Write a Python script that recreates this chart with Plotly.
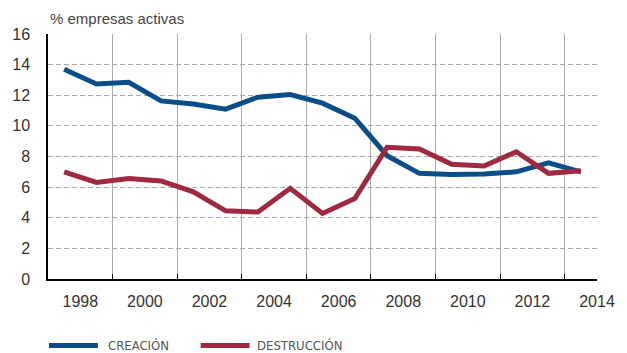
import plotly.graph_objects as go

years = [1997.5 + i for i in range(17)]
creacion = [13.70, 12.74, 12.85, 11.63, 11.43, 11.09, 11.87, 12.05, 11.48, 10.50,
            8.05, 6.90, 6.83, 6.85, 7.00, 7.59, 7.00]
destruccion = [7.00, 6.31, 6.57, 6.40, 5.69, 4.45, 4.37, 5.92, 4.28, 5.26,
               8.60, 8.49, 7.49, 7.38, 8.31, 6.90, 7.07]
tick_years = [1998, 2000, 2002, 2004, 2006, 2008, 2010, 2012, 2014]
grid_years = [1999, 2001, 2003, 2005, 2007, 2009, 2011, 2013]
y_ticks = [0, 2, 4, 6, 8, 10, 12, 14, 16]

BLUE = "#0b4d86"
RED = "#9f2941"

fig = go.Figure()
fig.add_trace(go.Scatter(x=years, y=creacion, mode="lines", name="CREACIÓN",
                         line=dict(color=BLUE, width=5)))
fig.add_trace(go.Scatter(x=years, y=destruccion, mode="lines", name="DESTRUCCIÓN",
                         line=dict(color=RED, width=5)))

fig.update_layout(
    width=627, height=353,
    margin=dict(l=46, r=20, t=34, b=74),
    paper_bgcolor="white", plot_bgcolor="white",
    showlegend=False,
    font=dict(family="Liberation Sans, Arial, sans-serif", color="#333"),
    xaxis=dict(
        range=[1997, 2014], tickmode="array", tickvals=tick_years,
        ticktext=[str(t) for t in tick_years], showgrid=False, ticks="",
        tickfont=dict(size=16, color="#333"), ticklabelstandoff=7,
        showline=True, linecolor="black", linewidth=1.5, zeroline=False,
        minor=dict(tickmode="array", tickvals=grid_years, showgrid=True,
                   gridcolor="#aaaaaa", gridwidth=1.2, ticks="inside",
                   ticklen=5, tickcolor="black", tickwidth=1.2),
    ),
    yaxis=dict(
        range=[0, 16], tickmode="array", tickvals=y_ticks,
        showgrid=True, gridcolor="#aaaaaa", gridwidth=1.3, griddash="5px,3px",
        ticks="", tickfont=dict(size=16, color="#333"), ticklabelstandoff=13,
        showline=True, linecolor="black", linewidth=1.5, zeroline=False,
    ),
)

fig.add_annotation(text="% empresas activas", xref="paper", yref="paper",
                   x=0, y=1, xanchor="left", yanchor="bottom", yshift=5,
                   showarrow=False, font=dict(size=15, color="#444"))

# manual legend
leg = [("CREACIÓN", BLUE, 47, 97, 105), ("DESTRUCCIÓN", RED, 202, 252, 258)]
for label, col, x0, x1, xt in leg:
    fig.add_shape(type="line", xref="paper", yref="paper",
                  x0=(x0 - 46) / 561, x1=(x1 - 46) / 561,
                  y0=(353 - 74 - 345.5) / 245, y1=(353 - 74 - 345.5) / 245,
                  line=dict(color=col, width=5))
    fig.add_annotation(text=label, xref="paper", yref="paper",
                       x=(xt - 46) / 561, y=(353 - 74 - 345.5) / 245,
                       xanchor="left", yanchor="middle", showarrow=False,
                       font=dict(size=13, color="#555",
                                 family="DejaVu Sans Condensed, Liberation Sans Narrow, sans-serif"))

fig.write_html("out.html")
